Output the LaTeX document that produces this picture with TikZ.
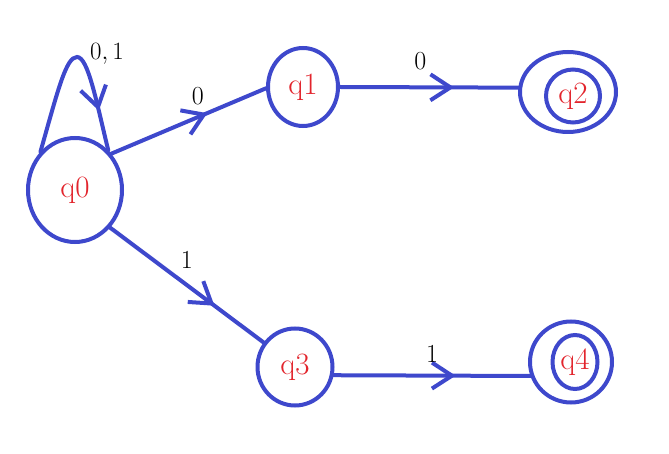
\documentclass[tikz,border=0pt]{standalone}
\usepackage{fontspec}
\usetikzlibrary{shapes.geometric,arrows.meta,decorations.markings}
\definecolor{penblue}{RGB}{62,72,204}
\definecolor{namered}{RGB}{226,36,44}
\begin{document}
\begin{tikzpicture}[x=1pt, y=-1pt, line width=4pt, line cap=round, penblue,
        every node/.style={ellipse, draw=penblue, text=namered, inner sep=0pt, font=\fontsize{31}{36}\selectfont},
        lbl/.style={draw=none, text=black, font=\fontsize{26}{30}\selectfont},
        midarrow/.style={postaction={decorate}, decoration={markings,
            mark=at position #1 with {\arrow{Straight Barb[length=20pt,width=26pt]}}}}]
        \useasboundingbox (0,0) rectangle (669,454);
        \node[minimum width=94pt, minimum height=104pt] (q0) at (75,190) {q0};
        \node[minimum width=70pt, minimum height=78pt] (q1) at (303,87) {q1};
        \node[minimum width=96pt, minimum height=80pt] (q2) at (568,92) {};
        \node[minimum width=54pt, minimum height=53pt] (q2i) at (573,96) {q2};
        \node[minimum width=75pt, minimum height=77pt] (q3) at (295,367) {q3};
        \node[minimum width=82pt, minimum height=81pt] (q4) at (571,362) {};
        \node[minimum width=45pt, minimum height=54pt] (q4i) at (575,362) {q4};
        \draw[midarrow=0.8] (q0.132) .. controls (58,90) and (66,57) .. (77,57)
            .. controls (88,57) and (96,100) .. (q0.50);
        \node[lbl] (l01) at (107,54) {\(0,1\)};
        \draw[midarrow=0.62] (q0.45) -- (q1.182) node[lbl, pos=0.56, above=7pt] {0};
        \draw[midarrow=0.64] (q1.east) -- (q2.175) node[lbl, pos=0.45, above=12pt] {0};
        \draw[midarrow=0.68] (q0.-47) -- (q3.142) node[lbl, pos=0.5, above=11pt] {1};
        \draw[midarrow=0.62] (q3.-12) -- (q4.199) node[lbl, pos=0.5, above=8pt] {1};
    \end{tikzpicture}
\end{document}
